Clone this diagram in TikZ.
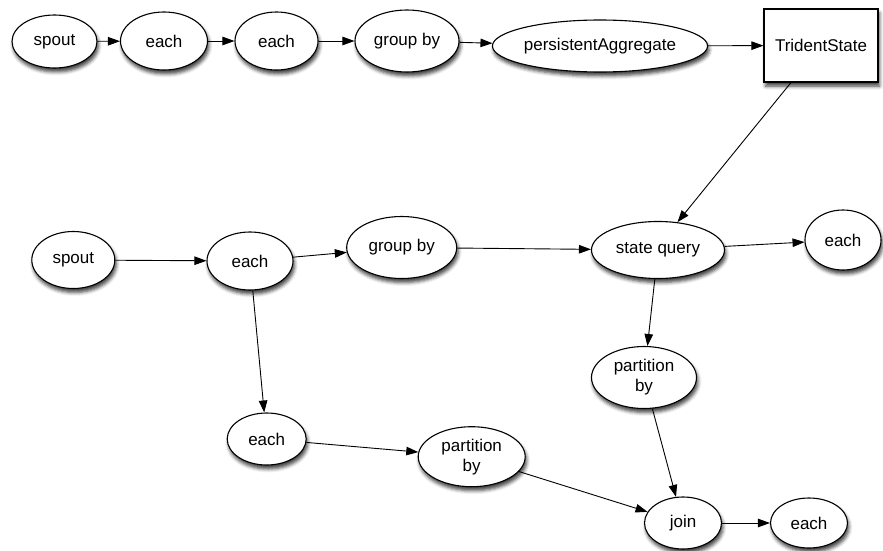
\documentclass[tikz,border=0pt]{standalone}
\usepackage{fontspec}
\setmainfont{Liberation Sans}
\usetikzlibrary{shapes.geometric,arrows.meta,shadows.blur}

\begin{document}
\begin{tikzpicture}[x=1pt,y=-1pt,
  sh/.style={blur shadow={shadow xshift=1.5pt, shadow yshift=-4pt,
      shadow blur radius=3.5pt, shadow opacity=75}},
  op/.style={ellipse, draw, fill=white, line width=1.1pt, inner sep=0pt,
      align=center, font=\fontsize{17}{20}\selectfont, sh},
  store/.style={rectangle, draw, fill=white, line width=1.1pt, inner sep=0pt,
      font=\fontsize{17}{20}\selectfont, sh},
  flow/.style={-{Triangle[length=12pt,width=8.5pt]}, line width=0.9pt},
]
\useasboundingbox (0,0) rectangle (883,551);

% top stream
\node[op, minimum width=85pt, minimum height=53pt] (s1) at (54.5,41.5) {spout};
\node[op, minimum width=87pt, minimum height=58pt] (e1) at (164,41) {each};
\node[op, minimum width=83pt, minimum height=58pt] (e2) at (276.5,41) {each};
\node[op, minimum width=104pt, minimum height=62pt] (g1) at (407,41) {group by};
\node[op, minimum width=215pt, minimum height=52pt] (pa) at (600,46) {persistentAggregate};
\node[store, minimum width=114pt, minimum height=73pt] (ts) at (821,45.5) {TridentState};

% query stream
\node[op, minimum width=83pt, minimum height=57pt] (s2) at (73.3,260) {spout};
\node[op, minimum width=86pt, minimum height=58pt] (e3) at (250,261) {each};
\node[op, minimum width=110pt, minimum height=62pt] (g2) at (401.7,247.5) {group by};
\node[op, minimum width=133pt, minimum height=57pt] (sq) at (658,250) {state query};
\node[op, minimum width=76pt, minimum height=60pt] (e4) at (843,240) {each};
\node[op, minimum width=105pt, minimum height=62pt] (p1) at (644,377.5) {partition\\by};
\node[op, minimum width=79pt, minimum height=52pt] (e5) at (266.7,439) {each};
\node[op, minimum width=107pt, minimum height=60pt] (p2) at (471.7,456.7) {partition\\by};
\node[op, minimum width=77pt, minimum height=52pt] (jn) at (683,523) {join};
\node[op, minimum width=77pt, minimum height=50pt] (e6) at (809,523) {each};

% connectors
\draw[flow] (s1) -- (e1);
\draw[flow] (e1) -- (e2);
\draw[flow] (e2) -- (g1);
\draw[flow] (g1) -- (pa);
\draw[flow] (pa) -- (ts);
\draw[flow] (ts) -- (sq.55);
\draw[flow] (s2) -- (e3);
\draw[flow] (e3) -- (g2);
\draw[flow] (g2) -- (sq);
\draw[flow] (sq) -- (e4);
\draw[flow] (sq) -- (p1);
\draw[flow] (e3) -- (e5);
\draw[flow] (e5) -- (p2);
\draw[flow] (p2) -- (jn);
\draw[flow] (p1) -- (jn);
\draw[flow] (jn) -- (e6);
\end{tikzpicture}
\end{document}
